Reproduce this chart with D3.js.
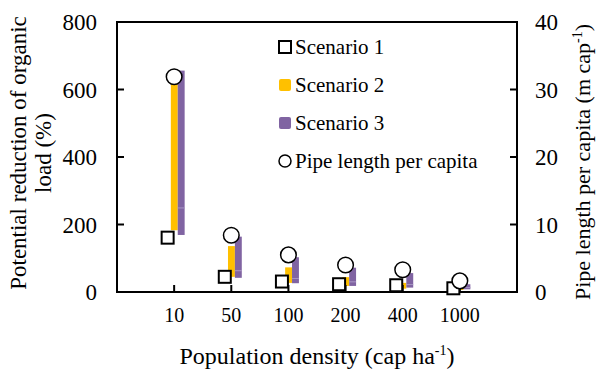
<!DOCTYPE html>
<html>
<head>
<meta charset="utf-8">
<script src="https://cdn.jsdelivr.net/npm/d3@7"></script>
<style>
  body { margin: 0; background: #fff; }
  svg text, svg tspan { font-family: "Liberation Serif" !important; }
</style>
</head>
<body>
<script>
// data
var categories = ["10", "50", "100", "200", "400", "1000"];
var scenario1 = [161, 45, 31, 23, 20, 11];
var scenario2Low = [183, 45, 27, 18, 10, 6];
var scenario2High = [620, 136, 73, 44, 27, 13];
var scenario3Low = [169, 42, 26, 18, 13, 8];
var scenario3Mid = [249, 63, 40, 30, 22, 13];
var scenario3High = [656, 164, 103, 72, 56, 23];
var pipeLength = [31.9, 8.4, 5.5, 4.0, 3.3, 1.65];
var leftTicks = [0, 200, 400, 600, 800];
var rightTicks = [0, 10, 20, 30, 40];

var W = 598, H = 369;
var m = {left: 117, right: 81, top: 22, bottom: 77};
var FONT = "Liberation Serif";

var svg = d3.select("body").append("svg")
    .attr("width", W)
    .attr("height", H)
    .attr("font-family", FONT);

// categories sit at 1..6 on a 0..7 axis
var x = d3.scaleLinear().domain([0, categories.length + 1]).range([m.left, W - m.right]);
var y = d3.scaleLinear().domain([0, 800]).range([H - m.bottom, m.top]);
var y2 = d3.scaleLinear().domain([0, 40]).range([H - m.bottom, m.top]);
var sub = d3.scaleBand().domain(["s2", "s3"]).range([-3.3, 10.5]);

var rows = categories.map(function(c, i) {
  return {cat: c, i: i + 1, s1: scenario1[i], s2lo: scenario2Low[i], s2hi: scenario2High[i],
    s3lo: scenario3Low[i], s3mid: scenario3Mid[i], s3hi: scenario3High[i], pipe: pipeLength[i]};
});

var yellow = "#ffc000", purple = "#8064a2";

function label(sel, size) {
  return sel.append("text")
    .style("font-family", FONT)
    .style("font-size", size + "px");
}

// scenario 2 range bars
svg.append("g").selectAll("rect")
  .data(rows).enter().append("rect")
    .attr("x", function(d) { return x(d.i) + sub("s2"); })
    .attr("width", sub.bandwidth())
    .attr("y", function(d) { return y(d.s2hi); })
    .attr("height", function(d) { return y(d.s2lo) - y(d.s2hi); })
    .style("fill", yellow);

// scenario 3 range bars (two stacked parts)
var g3 = svg.append("g");
g3.selectAll("rect.lo")
  .data(rows).enter().append("rect")
    .attr("class", "lo")
    .attr("x", function(d) { return x(d.i) + sub("s3"); })
    .attr("width", sub.bandwidth())
    .attr("y", function(d) { return y(d.s3mid); })
    .attr("height", function(d) { return y(d.s3lo) - y(d.s3mid); })
    .style("fill", purple);
g3.selectAll("rect.hi")
  .data(rows).enter().append("rect")
    .attr("class", "hi")
    .attr("x", function(d) { return x(d.i) + sub("s3"); })
    .attr("width", sub.bandwidth())
    .attr("y", function(d) { return y(d.s3hi); })
    .attr("height", function(d) { return y(d.s3mid) - y(d.s3hi); })
    .style("fill", purple);
g3.selectAll("line")
  .data(rows).enter().append("line")
    .attr("x1", function(d) { return x(d.i) + sub("s3"); })
    .attr("x2", function(d) { return x(d.i) + sub("s3") + sub.bandwidth(); })
    .attr("y1", function(d) { return y(d.s3mid); })
    .attr("y2", function(d) { return y(d.s3mid); })
    .style("stroke", "#a593c2")
    .style("stroke-width", 1);

// frame + axes
var plotW = W - m.left - m.right, plotH = H - m.top - m.bottom;
svg.append("rect")
    .attr("x", m.left).attr("y", m.top)
    .attr("width", plotW).attr("height", plotH)
    .style("fill", "none").style("stroke", "#000").style("stroke-width", 2);

var tickLen = 7;
svg.append("g").selectAll("line")
  .data(leftTicks).enter().append("line")
    .attr("x1", m.left).attr("x2", m.left + tickLen)
    .attr("y1", function(d) { return y(d); }).attr("y2", function(d) { return y(d); })
    .style("stroke", "#000").style("stroke-width", 2);
leftTicks.forEach(function(t) {
  label(svg, 23).attr("x", m.left - 20).attr("y", y(t)).attr("dy", "0.35em")
    .attr("text-anchor", "end").text(t);
});

svg.append("g").selectAll("line")
  .data(rightTicks).enter().append("line")
    .attr("x1", W - m.right).attr("x2", W - m.right - tickLen)
    .attr("y1", function(d) { return y2(d); }).attr("y2", function(d) { return y2(d); })
    .style("stroke", "#000").style("stroke-width", 2);
rightTicks.forEach(function(t) {
  label(svg, 23).attr("x", W - m.right + 18).attr("y", y2(t)).attr("dy", "0.35em").text(t);
});

svg.append("g").selectAll("line")
  .data(rows).enter().append("line")
    .attr("x1", function(d) { return x(d.i); }).attr("x2", function(d) { return x(d.i); })
    .attr("y1", H - m.bottom).attr("y2", H - m.bottom - tickLen)
    .style("stroke", "#000").style("stroke-width", 2);
rows.forEach(function(d) {
  label(svg, 20).attr("x", x(d.i)).attr("y", H - m.bottom + 23).attr("dy", "0.35em")
    .attr("text-anchor", "middle").text(d.cat);
});

// scenario 1 squares
var sq = 12;
svg.append("g").selectAll("rect")
  .data(rows).enter().append("rect")
    .attr("x", function(d) { return x(d.i) - 6.5 - sq / 2; })
    .attr("y", function(d) { return y(d.s1) - sq / 2; })
    .attr("width", sq).attr("height", sq)
    .style("fill", "#fff").style("stroke", "#000").style("stroke-width", 2);

// pipe length circles
svg.append("g").selectAll("circle")
  .data(rows).enter().append("circle")
    .attr("cx", function(d) { return x(d.i); })
    .attr("cy", function(d) { return y2(d.pipe); })
    .attr("r", 7.8)
    .style("fill", "#fff").style("stroke", "#000").style("stroke-width", 1.5);

// legend
var legend = svg.append("g").attr("transform", "translate(285,47)");
var items = ["Scenario 1", "Scenario 2", "Scenario 3", "Pipe length per capita"];
items.forEach(function(name, i) {
  var g = legend.append("g").attr("transform", "translate(0," + (i * 38) + ")");
  if (i == 0) {
    g.append("rect").attr("x", -6).attr("y", -6).attr("width", 12).attr("height", 12)
      .style("fill", "#fff").style("stroke", "#000").style("stroke-width", 2);
  } else if (i == 3) {
    g.append("circle").attr("r", 6).style("fill", "#fff").style("stroke", "#000").style("stroke-width", 1.5);
  } else {
    g.append("rect").attr("x", -6).attr("y", -6).attr("width", 12).attr("height", 12)
      .attr("rx", 2).style("fill", i == 1 ? yellow : purple);
  }
  label(g, 21).attr("x", 10).attr("dy", "0.35em").text(name);
});

// axis titles
var xt = label(svg, 24)
    .attr("x", m.left + plotW / 2)
    .attr("y", 364)
    .attr("text-anchor", "middle");
xt.append("tspan").text("Population density (cap ha");
xt.append("tspan").attr("dy", -9).style("font-size", "14px").text("-1");
xt.append("tspan").attr("dy", 9).text(")");

var yt = label(svg, 23)
    .attr("transform", "translate(26,153) rotate(-90)")
    .attr("text-anchor", "middle");
yt.append("tspan").attr("x", 0).text("Potential reduction of organic");
yt.append("tspan").attr("x", 0).attr("dy", 25).text("load (%)");

var rt = label(svg, 22)
    .attr("transform", "translate(590,162) rotate(-90)")
    .attr("text-anchor", "middle");
rt.append("tspan").text("Pipe length per capita (m cap");
rt.append("tspan").attr("dy", -8).style("font-size", "14px").text("-1");
rt.append("tspan").attr("dy", 8).text(")");
</script>
</body>
</html>
